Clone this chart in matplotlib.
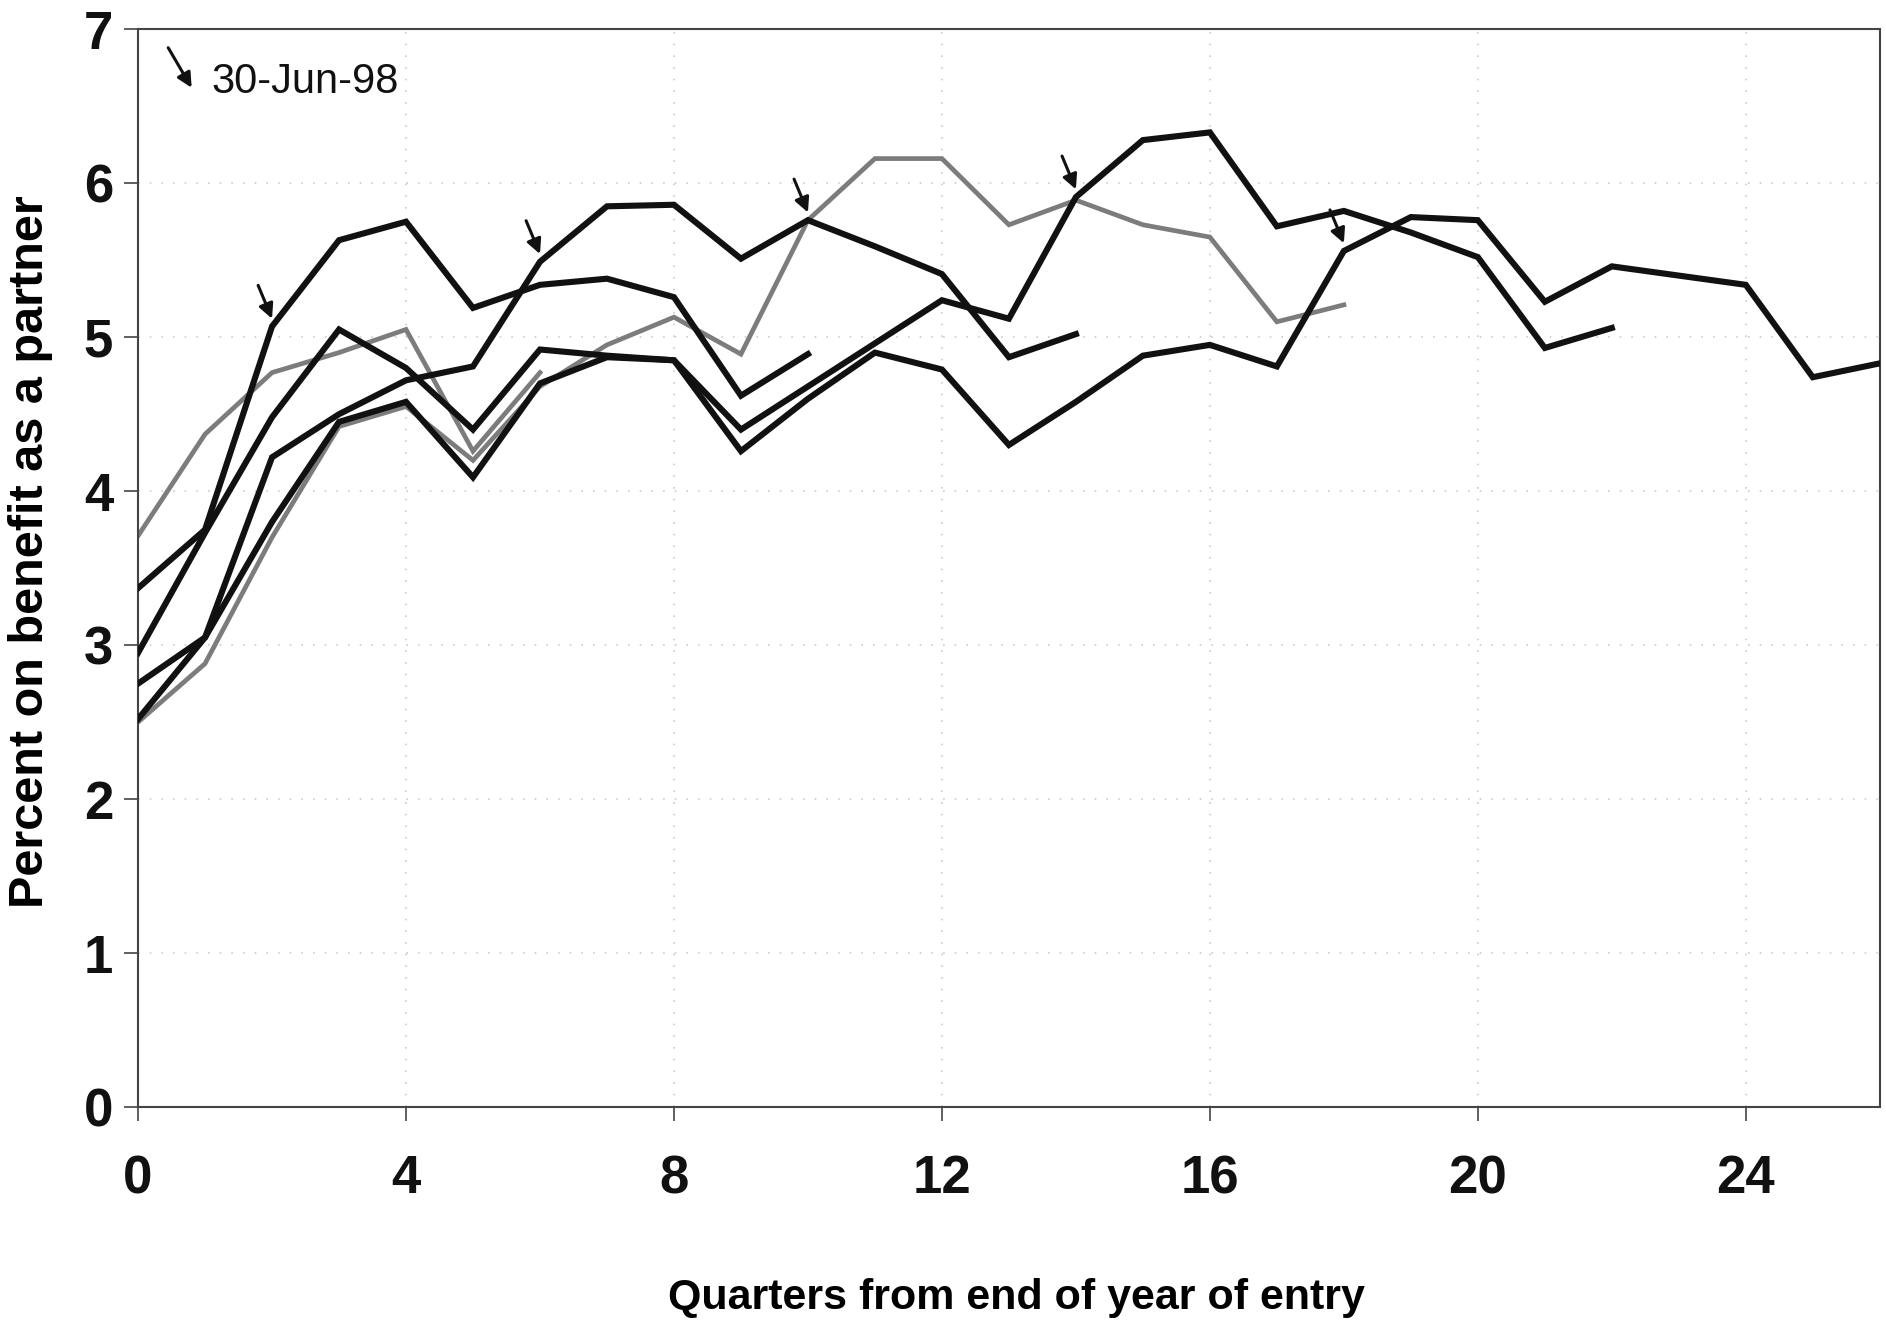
import matplotlib.pyplot as plt
import numpy as np

plt.rcParams['font.family'] = ['Liberation Sans', 'DejaVu Sans']

# Percent on benefit as a partner, by quarters from end of year of entry
# one series per entry cohort (arrow marks 30-Jun-98 on each)
c1 = [3.71, 4.37, 4.77, 4.90, 5.05, 4.26, 4.77]
c2 = [3.37, 3.75, 5.07, 5.63, 5.75, 5.19, 5.34, 5.38, 5.26, 4.62, 4.89]
c3 = [2.75, 3.05, 4.22, 4.50, 4.72, 4.81, 5.49, 5.85, 5.86, 5.51, 5.76,
      5.59, 5.41, 4.87, 5.02]
c4 = [2.50, 2.88, 3.70, 4.42, 4.55, 4.20, 4.68, 4.95, 5.13, 4.89, 5.76,
      6.16, 6.16, 5.73, 5.89, 5.73, 5.65, 5.10, 5.21]
c5 = [2.95, 3.73, 4.48, 5.05, 4.80, 4.40, 4.92, 4.88, 4.85, 4.40, 4.68,
      4.96, 5.24, 5.12, 5.91, 6.28, 6.33, 5.72, 5.82, 5.68, 5.52, 4.93, 5.06]
c6 = [2.52, 3.05, 3.80, 4.45, 4.58, 4.09, 4.70, 4.87, 4.85, 4.26, 4.60,
      4.90, 4.79, 4.30, 4.58, 4.88, 4.95, 4.81, 5.56, 5.78, 5.76, 5.23,
      5.46, 5.40, 5.34, 4.74, 4.83]

cohorts = [c1, c2, c3, c4, c5, c6]
colors = ['#7c7c7c', '#111111', '#111111', '#7c7c7c', '#111111', '#111111']
widths = [3.4, 4.4, 4.4, 3.4, 4.4, 4.4]
# quarter at which 30-Jun-98 falls for each cohort (None = before q0)
arrow_q = [None, 2, 6, 10, 14, 18]

x_ticks = [0, 4, 8, 12, 16, 20, 24]
y_ticks = [0, 1, 2, 3, 4, 5, 6, 7]

fig = plt.figure(figsize=(18.86, 13.29), dpi=100)
ax = fig.add_axes([0.0732, 0.167, 0.9235, 0.811])

for vals, col, lw in zip(cohorts, colors, widths):
    q = np.arange(len(vals))
    z = 2 if col == '#7c7c7c' else 3
    ax.plot(q, vals, color=col, lw=lw, solid_joinstyle='miter', zorder=z)

arrow_props = dict(arrowstyle='-|>', color='#111111', lw=2.2,
                   mutation_scale=22, shrinkA=0, shrinkB=0)

# arrows marking 30-Jun-98
for vals, aq in zip(cohorts, arrow_q):
    if aq is None:
        continue
    ax.annotate('', xy=(aq, vals[aq] + 0.05), xytext=(-10, 24),
                textcoords='offset points', arrowprops=arrow_props, zorder=5)

# legend-like note
ax.annotate('', xy=(0.8, 6.62), xytext=(0.45, 6.88), arrowprops=arrow_props)
ax.text(1.1, 6.66, '30-Jun-98', fontsize=30, va='center', ha='left',
        color='#111111')

ax.set_xlim(0, 26)
ax.set_ylim(0, 7)
ax.set_xticks(x_ticks)
ax.set_yticks(y_ticks)
ax.tick_params(axis='both', direction='out', length=10, width=1.2,
               colors='#444444', labelcolor='#111111', labelsize=38, pad=8)
ax.tick_params(axis='x', pad=24)
for lab in ax.get_xticklabels() + ax.get_yticklabels():
    lab.set_fontweight('bold')

ax.grid(True, color='#cccccc', linestyle=(0, (1, 6)), lw=1.2, zorder=0)
for s in ax.spines.values():
    s.set_color('#444444')
    s.set_linewidth(1.5)

fig.text(0.016, 0.585, 'Percent on benefit as a partner', rotation=90,
         fontsize=35, fontweight='bold', ha='center', va='center')
fig.text(0.539, 0.023, 'Quarters from end of year of entry', fontsize=31,
         fontweight='bold', ha='center', va='center')

fig.savefig('out.png', dpi=100, facecolor='white')
